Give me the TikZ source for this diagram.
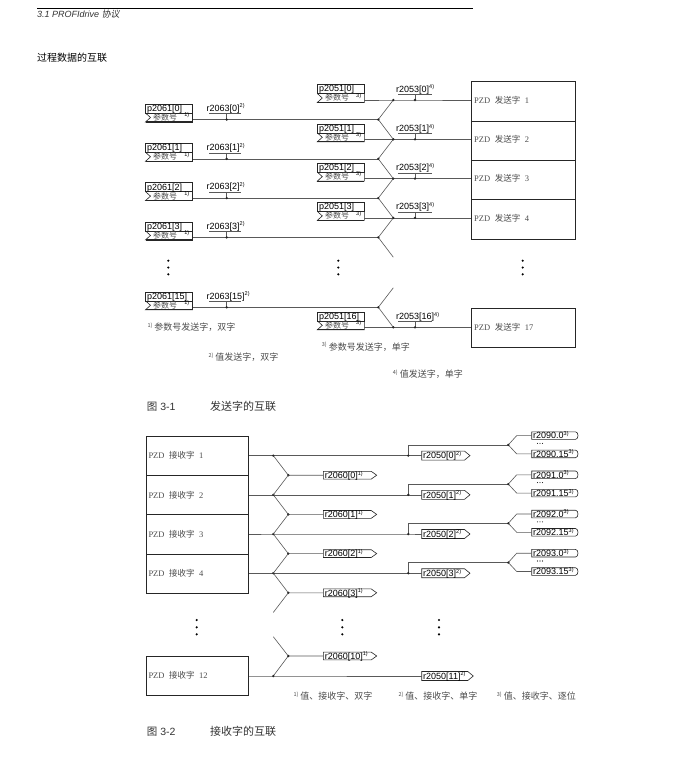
\documentclass[tikz,border=0pt]{standalone}
\usepackage{fontspec}
\setmainfont{Liberation Sans}
\newfontfamily\cjk{Noto Sans CJK SC}
\newfontfamily\cjkit[FakeSlant=0.2]{Noto Sans CJK SC}
\newfontfamily\latserif{Liberation Serif}
\definecolor{wirec}{gray}{0.35}
\definecolor{boxc}{gray}{0.15}
\definecolor{txtg}{gray}{0.3}
\newcommand\fnm[1]{\raisebox{3.3pt}{\fontsize{5.5}{5.5}\selectfont #1}}
\newcommand\pzdtxt[2]{{\latserif PZD}\hspace{4.5pt}{\cjk #1}\hspace{4.5pt}{\latserif #2}}
\tikzset{
 wire/.style={draw=wirec, line width=0.6pt},
 boxln/.style={draw=boxc, line width=0.6pt},
 lbl/.style={inner sep=0pt, anchor=base west, font=\fontsize{9}{9}\selectfont, text=black},
 cjklbl/.style={inner sep=0pt, anchor=base west, font=\cjk\fontsize{8}{8}\selectfont, text=txtg},
 supl/.style={inner sep=0pt, anchor=base east, font=\fontsize{5.5}{5.5}\selectfont},
 pzdlbl/.style={inner sep=0pt, anchor=west, font=\fontsize{8.5}{9}\selectfont, text=txtg},
 note/.style={inner sep=0pt, anchor=west, font=\cjk\fontsize{9}{9}\selectfont, text=txtg},
 pzdbox/.style={draw=boxc, line width=0.6pt, inner sep=0pt, anchor=north west},
}
\newcommand\jdot[1]{\fill[black!85] (#1) circle (1.3pt);}
\newcommand\parmbox[5]{%
 \pgfmathsetmacro\pbT{#2-15.5}%
 \pgfmathsetmacro\pbM{#2-6.5}%
 \pgfmathsetmacro\pbB{#2+2.5}%
 \pgfmathsetmacro\pbC{#2-2}%
 \pgfmathsetmacro\pbR{#1+47}%
 \pgfmathsetmacro\pbN{#1+5}%
 \draw[boxln] (#1,\pbT) rectangle (\pbR,\pbM);
 \draw[boxln] (\pbR,\pbM) -- (\pbR,\pbB) -- (#1,\pbB) -- (\pbN,\pbC) -- (#1,\pbM);
 \draw[draw=boxc, line width=1.2pt] (#1,\pbB) -- (\pbR,\pbB);
 \node[lbl] (#5t) at (#1+1.5,\pbM-1.6) {#3};
 \node[cjklbl] (#5c) at (#1+7.5,\pbB-1.6) {参数号};
 \node[supl] (#5s) at (\pbR-3,\pbM+3.8) {#4};
 \coordinate (#5) at (\pbR,#2);
}
\newcommand\arrbox[5]{% #1 left x, #2 tip x, #3 center y, #4 half height, #5 name
 \pgfmathsetmacro\abK{#2-5.5}%
 \draw[boxln] (#1,#3-#4) -- (\abK,#3-#4) -- (#2,#3) -- (\abK,#3+#4) -- (#1,#3+#4) -- cycle;
 \coordinate (#5) at (#1,#3);
}
\newcommand\rndbox[3]{% #1 center y, #2 name, #3 text
 \draw[boxln] (531.7,#1-3.8) -- (575.5,#1-3.8) .. controls (578.8,#1-3.8) and (578.8,#1+3.8) .. (575.5,#1+3.8) -- (531.7,#1+3.8) -- cycle;
 \node[lbl] (#2t) at (533,#1+3.2) {#3};
 \coordinate (#2) at (531.7,#1);
}
\begin{document}
\begin{tikzpicture}[x=1pt,y=-1pt]
\useasboundingbox (0,0) rectangle (681,761);
\fill[white] (0,0) rectangle (681,761);
% header
\coordinate (hl) at (37,8);
\coordinate (hr) at (473,8);
\draw[line width=0.8pt] (hl) -- (hr);
\node[inner sep=0pt, anchor=base west, font=\fontsize{9}{9}\selectfont\itshape, text=black!80] (hdr) at (37,17.5) {3.1 PROFIdrive {\cjkit 协议}};
\node[inner sep=0pt, anchor=west, font=\cjk\fontsize{10}{10}\selectfont] (ttl) at (37,58) {过程数据的互联};

% ---------- Figure 3-1 ----------
\foreach \ii in {0,...,3}{
 \pgfmathsetmacro\yL{119.5+39.3*\ii}
 \pgfmathsetmacro\yP{100+39.3*\ii}
 \pgfmathsetmacro\yN{139.3+39.3*\ii}
 \pgfmathsetmacro\yT{81.35+39.3*\ii}
 \pgfmathtruncatemacro\kk{\ii+1}
 \parmbox{145.5}{\yL}{p2061[\ii]}{1)}{pa\ii}
 \parmbox{317.3}{\yP}{p2051[\ii]}{3)}{pb\ii}
 \node[pzdbox, minimum width=104.3pt, minimum height=39.3pt] (ps\ii) at (470.7,\yT) {};
 \node[pzdlbl] (pst\ii) at (474,\yP) {\pzdtxt{发送字}{\kk}};
 \coordinate (ja\ii) at (226.7,\yL);
 \coordinate (ua\ii) at (226.7,\yL-6);
 \coordinate (jx\ii) at (378.3,\yL);
 \coordinate (jb\ii) at (393.3,\yP);
 \coordinate (jc\ii) at (415,\yP);
 \coordinate (uc\ii) at (415,\yP-5.7);
 \coordinate (jn\ii) at (393.3,\yN);
 \node[lbl] (ra\ii) at (206.5,\yL-8.3) {r2063[\ii]\fnm{2)}};
 \node[lbl] (rb\ii) at (396,\yP-8) {r2053[\ii]\fnm{4)}};
 \draw[wire] (209,\yL-6) -- (241,\yL-6);
 \draw[wire] (398,\yP-5.7) -- (432,\yP-5.7);
 \draw[wire] (ua\ii) -- (ja\ii);
 \draw[wire] (uc\ii) -- (jc\ii);
 \draw[wire] (pa\ii) -- (ja\ii) -- (jx\ii);
 \draw[wire] (pb\ii) -- (jb\ii) -- (jc\ii) -- (ps\ii.west |- jc\ii);
 \draw[wire] (jb\ii) -- (jx\ii) -- (jn\ii);
 \jdot{ja\ii}\jdot{jx\ii}\jdot{jb\ii}\jdot{jc\ii}
}
% bottom rows of figure 3-1
\parmbox{145.5}{307.3}{p2061[15]}{1)}{pa15}
\parmbox{317.3}{327.3}{p2051[16]}{3)}{pb16}
\node[pzdbox, minimum width=104.3pt, minimum height=39pt] (ps16) at (470.7,307.7) {};
\node[pzdlbl] (pst16) at (474,327.3) {\pzdtxt{发送字}{17}};
\coordinate (ja15) at (226.7,307.3);
\coordinate (ua15) at (226.7,301.3);
\coordinate (jx15) at (378.3,307.3);
\coordinate (jq15) at (393.3,287.8);
\coordinate (jb16) at (393.3,327.3);
\coordinate (jc16) at (415,327.3);
\coordinate (uc16) at (415,321.6);
\node[lbl] (ra15) at (206.5,299) {r2063[15]\fnm{2)}};
\node[lbl] (rb16) at (396,319.3) {r2053[16]\fnm{4)}};
\draw[wire] (209,301.3) -- (241,301.3);
\draw[wire] (398,321.6) -- (432,321.6);
\draw[wire] (ua15) -- (ja15);
\draw[wire] (uc16) -- (jc16);
\draw[wire] (pa15) -- (ja15) -- (jx15);
\draw[wire] (jq15) -- (jx15) -- (jb16);
\draw[wire] (pb16) -- (jb16) -- (jc16) -- (ps16.west |- jc16);
\jdot{ja15}\jdot{jx15}\jdot{jb16}\jdot{jc16}
\foreach \xx in {168.3,338.3,522.7}{
 \foreach \yy in {260.7,267.5,274.3}{\fill[black] (\xx,\yy) circle (1.2pt);}
}
\node[note] (n1a) at (147.3,327.3) {\fnm{1)}\hspace{2pt}参数号发送字，双字};
\node[note] (n1b) at (208.3,357.3) {\fnm{2)}\hspace{2pt}值发送字，双字};
\node[note] (n1c) at (321.7,346.7) {\fnm{3)}\hspace{2pt}参数号发送字，单字};
\node[note] (n1d) at (392.7,374) {\fnm{4)}\hspace{2pt}值发送字，单字};
\node[inner sep=0pt, anchor=west, font=\fontsize{10.5}{11}\selectfont, text=black!80] (cap1n) at (146.7,406.7) {{\cjk 图} 3-1};
\node[inner sep=0pt, anchor=west, font=\cjk\fontsize{11}{11}\selectfont, text=black!80] (cap1t) at (210,406.7) {发送字的互联};

% ---------- Figure 3-2 ----------
\foreach \jj in {0,...,3}{
 \pgfmathsetmacro\yR{455.6+39.2*\jj}
 \pgfmathsetmacro\yT{436+39.2*\jj}
 \pgfmathsetmacro\yS{475.2+39.2*\jj}
 \pgfmathsetmacro\yB{444.9+39.2*\jj}
 \pgfmathsetmacro\ya{\yB-9.3}
 \pgfmathsetmacro\yb{\yB+9}
 \pgfmathsetmacro\yd{\yB-1.5}
 \pgfmathtruncatemacro\kk{\jj+1}
 \pgfmathtruncatemacro\rnum{2090+\jj}
 \node[pzdbox, minimum width=102.6pt, minimum height=39.2pt] (pr\jj) at (145.7,\yT) {};
 \node[pzdlbl] (prt\jj) at (148.3,\yR) {\pzdtxt{接收字}{\kk}};
 \coordinate (ka\jj) at (273.3,\yR);
 \coordinate (kb\jj) at (408.3,\yR);
 \coordinate (kc\jj) at (408.3,\yB);
 \coordinate (kd\jj) at (508.3,\yB);
 \coordinate (ke\jj) at (516.7,\ya);
 \coordinate (kf\jj) at (516.7,\yb);
 \coordinate (kg\jj) at (288.3,\yS);
 \arrbox{421.7}{470}{\yR}{4.5}{rci\jj}
 \node[lbl] (rc\jj) at (423,\yR+3.2) {r2050[\jj]\fnm{2)}};
 \arrbox{323.3}{376.7}{\yS}{3.9}{rdi\jj}
 \node[lbl] (rd\jj) at (324.6,\yS+3.2) {r2060[\jj]\fnm{1)}};
 \rndbox{\ya}{rei\jj}{r\rnum.0\fnm{3)}}
 \rndbox{\yb}{rfi\jj}{r\rnum.15\fnm{3)}}
 \foreach \xx in {537.5,540,542.5}{\fill[black] (\xx,\yd) circle (0.55pt);}
 \draw[wire] (pr\jj.east |- ka\jj) -- (ka\jj) -- (kb\jj) -- (rci\jj);
 \draw[wire] (kb\jj) -- (kc\jj) -- (kd\jj);
 \draw[wire] (kd\jj) -- (ke\jj) -- (rei\jj);
 \draw[wire] (kd\jj) -- (kf\jj) -- (rfi\jj);
 \draw[wire] (ka\jj) -- (kg\jj) -- (rdi\jj);
 \jdot{ka\jj}\jdot{kb\jj}\jdot{kd\jj}\jdot{kg\jj}
}
\foreach \jj in {1,2,3}{
 \pgfmathtruncatemacro\jm{\jj-1}
 \draw[wire] (ka\jj) -- (kg\jm);
}
\coordinate (kp1) at (273.3,612.4);
\draw[wire] (kg3) -- (kp1);
% bottom rows of figure 3-2
\node[pzdbox, minimum width=102.6pt, minimum height=39pt] (pr12) at (145.7,656) {};
\node[pzdlbl] (prt12) at (148.3,675.7) {\pzdtxt{接收字}{12}};
\coordinate (kp2) at (273.3,636.7);
\coordinate (kg10) at (288.3,656);
\coordinate (ka12) at (273.3,676);
\arrbox{323.3}{376.7}{656}{3.9}{rdi10}
\node[lbl] (rd10) at (324.6,659.2) {r2060[10]\fnm{1)}};
\arrbox{421.7}{473.3}{676}{4.5}{rci11}
\node[lbl] (rc11) at (423,679.2) {r2050[11]\fnm{2)}};
\draw[wire] (kp2) -- (kg10) -- (rdi10);
\draw[wire] (kg10) -- (ka12);
\draw[wire] (pr12.east |- ka12) -- (ka12) -- (rci11);
\jdot{kg10}\jdot{ka12}
\foreach \xx in {196.7,342.3,439}{
 \foreach \yy in {620,627.3,634.3}{\fill[black] (\xx,\yy) circle (1.2pt);}
}
\node[note] (n2a) at (293.3,696) {\fnm{1)}\hspace{2pt}值、接收字、双字};
\node[note] (n2b) at (398.3,696) {\fnm{2)}\hspace{2pt}值、接收字、单字};
\node[note] (n2c) at (496.7,696) {\fnm{3)}\hspace{2pt}值、接收字、逐位};
\node[inner sep=0pt, anchor=west, font=\fontsize{10.5}{11}\selectfont, text=black!80] (cap2n) at (146.7,731.7) {{\cjk 图} 3-2};
\node[inner sep=0pt, anchor=west, font=\cjk\fontsize{11}{11}\selectfont, text=black!80] (cap2t) at (210,731.7) {接收字的互联};
\end{tikzpicture}
\end{document}
